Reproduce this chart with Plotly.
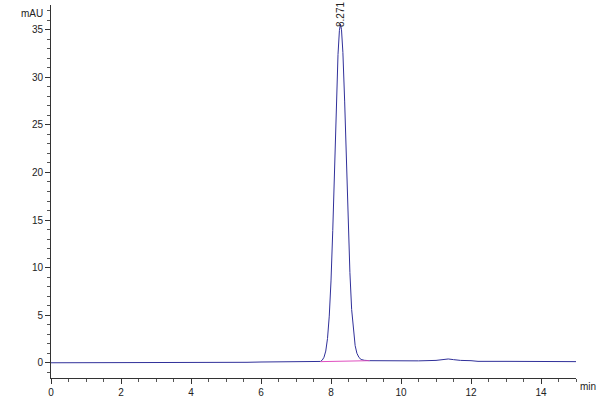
import plotly.graph_objects as go

# Chromatogram signal (time in min, signal in mAU)
time_min = [0.0, 1.0, 1.6, 2.0, 3.0, 4.0, 5.0, 5.6, 6.0, 6.5, 7.0, 7.5, 7.6,
            7.70, 7.75, 7.80, 7.85, 7.90, 7.95, 8.00, 8.05, 8.10, 8.15, 8.20,
            8.24, 8.27, 8.30, 8.34, 8.39, 8.44, 8.49, 8.54, 8.59, 8.64, 8.69,
            8.74, 8.80, 8.86, 8.95, 9.10, 9.5, 10.0, 10.5, 11.0, 11.2, 11.35,
            11.5, 11.7, 12.0, 12.2, 13.0, 14.0, 15.0]
signal_mau = [0.0, 0.0, 0.02, 0.0, 0.0, 0.0, 0.02, 0.05, 0.08, 0.1, 0.1, 0.12, 0.12,
              0.14, 0.28, 0.58, 1.23, 2.55, 4.9, 8.6, 13.9, 20.3, 26.9, 32.4,
              34.9, 35.6, 35.0, 32.6, 27.5, 21.2, 14.9, 9.5, 5.6, 3.2, 1.8,
              1.0, 0.55, 0.35, 0.26, 0.22, 0.2, 0.2, 0.2, 0.25, 0.35, 0.4,
              0.33, 0.25, 0.22, 0.15, 0.15, 0.15, 0.12]

# Integration baseline under the main peak
base_time = [7.7, 9.1]
base_mau = [0.12, 0.22]

peak_rt = 8.271
peak_label = "8.271"
peak_height = 35.6

x_ticks = [0, 2, 4, 6, 8, 10, 12, 14]
y_ticks = [0, 5, 10, 15, 20, 25, 30, 35]

font_family = "Liberation Sans Narrow, Liberation Sans, Arial"

fig = go.Figure()
fig.add_trace(go.Scatter(x=time_min, y=signal_mau, mode="lines",
                         line=dict(color="#30309a", width=1), showlegend=False))
fig.add_trace(go.Scatter(x=base_time, y=base_mau, mode="lines",
                         line=dict(color="#e050c0", width=1), showlegend=False))

fig.add_annotation(x=peak_rt, y=peak_height, text=peak_label, textangle=-90,
                   showarrow=False, xanchor="center", yanchor="bottom", yshift=-5,
                   font=dict(family=font_family, size=10, color="#222222"))
fig.add_annotation(xref="paper", yref="paper", x=0, y=1, text="mAU",
                   showarrow=False, xanchor="right", yanchor="top", xshift=-6, yshift=-1,
                   font=dict(family=font_family, size=10, color="#222222"))
fig.add_annotation(xref="paper", yref="paper", x=1, y=0, text="min",
                   showarrow=False, xanchor="left", yanchor="top", xshift=2, yshift=-1,
                   font=dict(family=font_family, size=10, color="#222222"))

fig.update_layout(
    width=600, height=400,
    margin=dict(l=51, r=24, t=5, b=22, autoexpand=False),
    paper_bgcolor="white", plot_bgcolor="white",
    font=dict(family=font_family, size=10, color="#222222"),
    xaxis=dict(range=[0, 15], tickvals=x_ticks, ticks="outside", ticklen=5,
               tickcolor="#333333", showline=True, linecolor="#333333", linewidth=1,
               showgrid=False, zeroline=False,
               minor=dict(dtick=0.5, ticks="outside", ticklen=3, tickcolor="#555555")),
    yaxis=dict(range=[-1.6, 37.6], tickvals=y_ticks, ticks="outside", ticklen=5,
               tickcolor="#333333", showline=True, linecolor="#333333", linewidth=1,
               showgrid=False, zeroline=False,
               minor=dict(dtick=1, ticks="outside", ticklen=3, tickcolor="#555555")),
)

fig.write_html("out.html", config={"displayModeBar": False},
               post_script="document.body.style.margin='0';")
